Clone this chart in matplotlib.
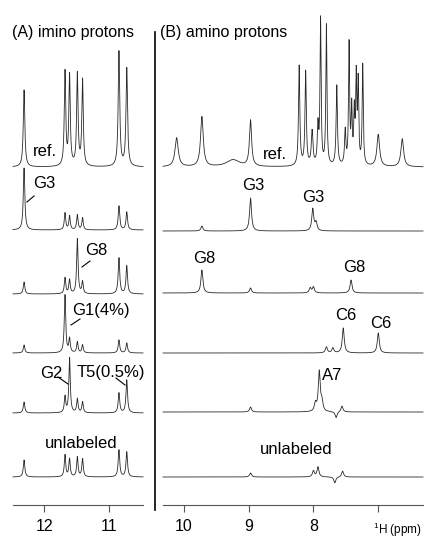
import numpy as np
import matplotlib
matplotlib.use("Agg")
import matplotlib.pyplot as plt
from matplotlib.lines import Line2D

plt.rcParams['font.family'] = ['Liberation Sans', 'DejaVu Sans']
plt.rcParams['mathtext.fontset'] = 'custom'
plt.rcParams['mathtext.rm'] = 'Liberation Sans'

# ---------------- data ----------------
# (A) imino protons: shared chemical shifts (ppm) and peak heights per trace
imino_shifts = [12.31, 11.68, 11.61, 11.49, 11.41, 10.85, 10.73]
imino_widths = [0.014, 0.013, 0.013, 0.013, 0.013, 0.014, 0.014]
imino_ref = [77, 94, 90, 92, 86, 115, 98]
imino_G3 = [62, 17, 14, 15, 12, 24, 18]
imino_G8 = [12, 16, 14, 55, 12, 36, 28]
imino_G1 = [8, 58, 14, 11, 8, 13, 10]
imino_G2T5 = [11, 16, 55, 14, 11, 20, 33]
imino_unlabeled = [17, 22, 18, 20, 18, 27, 25]

# (B) amino protons reference
amino_ref_shifts = [10.11, 9.72, 9.24, 8.97, 8.22, 8.12, 8.02, 7.93, 7.89, 7.80,
                    7.64, 7.51, 7.45, 7.41, 7.37, 7.34, 7.31, 7.24, 7.00, 6.63]
amino_ref_heights = [29, 50, 7, 46, 100, 94, 34, 38, 145, 140,
                     80, 34, 120, 55, 50, 85, 80, 100, 32, 28]
amino_ref_widths = [0.03, 0.025, 0.12, 0.02, 0.012, 0.012, 0.015, 0.012, 0.01, 0.01,
                    0.012, 0.012, 0.01, 0.01, 0.01, 0.01, 0.01, 0.01, 0.025, 0.025]

# (B) selectively labeled traces: shifts and heights
amino_G3_shifts = [9.72, 8.97, 8.01, 7.96]
amino_G3_heights = [5, 33, 22, 8]
amino_G8_shifts = [9.72, 8.97, 8.05, 8.00, 7.42]
amino_G8_heights = [23, 5, 5, 6, 13]
amino_C6_shifts = [7.80, 7.70, 7.54, 7.00]
amino_C6_heights = [6, 5, 25, 20]
amino_A7_shifts = [8.97, 7.97, 7.91, 7.87, 7.65, 7.56]
amino_A7_heights = [5, 8, 40, 9, -6, 6]
amino_unl_shifts = [8.97, 8.00, 7.93, 7.67, 7.55]
amino_unl_heights = [4, 6, 10, -6, 6]

imino_ticks = [12, 11]
amino_ticks = [10, 9, 8, 7]
amino_ticklabels = ['10', '9', '8', '']

# ---------------- figure ----------------
W, H = 426, 540
fig = plt.figure(figsize=(W / 100, H / 100), dpi=100)


def fx(px):
    return px / W


def fy(py):
    return 1 - py / H


AXIS_Y = 505
LINE_COLOR = '#2a2a2a'


def lorentz_sum(x, shifts, heights, widths):
    y = np.zeros_like(x)
    for s, h, w in zip(shifts, heights, widths):
        y += h / (1 + ((x - s) / w) ** 2)
    return y


def make_axes(left_px, right_px, xlim, ticks, labels):
    ax = fig.add_axes([fx(left_px), fy(AXIS_Y), fx(right_px - left_px), AXIS_Y / H])
    ax.set_xlim(*xlim)
    ax.set_ylim(0, AXIS_Y)
    for s in ['top', 'left', 'right']:
        ax.spines[s].set_visible(False)
    ax.spines['bottom'].set_color('#555555')
    ax.spines['bottom'].set_linewidth(0.8)
    ax.set_yticks([])
    ax.set_xticks(ticks)
    ax.set_xticklabels(labels)
    ax.tick_params(axis='x', direction='out', length=5, width=0.8, color='#555555',
                   labelsize=11.5, pad=5)
    ax.patch.set_visible(False)
    return ax


axA = make_axes(13, 143, (12.48, 10.48), imino_ticks, [str(t) for t in imino_ticks])
axB = make_axes(163, 423, (10.32, 6.31), amino_ticks, amino_ticklabels)

xa = np.linspace(12.48, 10.48, 6000)
xb = np.linspace(10.32, 6.31, 8000)

# imino traces
imino_traces = [(imino_ref, 167), (imino_G3, 230), (imino_G8, 294),
                (imino_G1, 353), (imino_G2T5, 413), (imino_unlabeled, 477)]
for heights, base in imino_traces:
    y = (AXIS_Y - base) + lorentz_sum(xa, imino_shifts, heights, imino_widths)
    axA.plot(xa, y, color=LINE_COLOR, lw=0.6, clip_on=False)

# amino traces
yb = (AXIS_Y - 167) + lorentz_sum(xb, amino_ref_shifts, amino_ref_heights, amino_ref_widths)
axB.plot(xb, yb, color=LINE_COLOR, lw=0.6, clip_on=False)
amino_traces = [(amino_G3_shifts, amino_G3_heights, 231),
                (amino_G8_shifts, amino_G8_heights, 293),
                (amino_C6_shifts, amino_C6_heights, 353),
                (amino_A7_shifts, amino_A7_heights, 412),
                (amino_unl_shifts, amino_unl_heights, 477)]
for shifts, heights, base in amino_traces:
    y = (AXIS_Y - base) + lorentz_sum(xb, shifts, heights, [0.018] * len(shifts))
    axB.plot(xb, y, color=LINE_COLOR, lw=0.6, clip_on=False)

# divider
fig.add_artist(Line2D([fx(155), fx(155)], [fy(32), fy(510)], transform=fig.transFigure,
                      color='black', lw=1.2))

# titles
fig.text(fx(12), fy(33), '(A) imino protons', fontsize=11.5, ha='left', va='center')
fig.text(fx(160), fy(33), '(B) amino protons', fontsize=11.5, ha='left', va='center')

# labels
LS = 12
labels = [
    ('ref.', 33, 152), ('ref.', 263, 155),
    ('G3', 33, 184), ('G8', 85, 250), ('G1(4%)', 72, 310),
    ('G2', 40, 373), ('T5(0.5%)', 77, 373), ('unlabeled', 45, 443),
    ('G3', 242, 185), ('G3', 302, 197), ('G8', 193, 258), ('G8', 343, 268),
    ('C6', 335, 315), ('C6', 370, 323), ('A7', 322, 375), ('unlabeled', 260, 450),
]
for txt, x, y in labels:
    fig.text(fx(x), fy(y), txt, fontsize=LS, ha='left', va='center')

leaders = [((27, 202), (34, 196)), ((82, 267), (90, 261)), ((71, 325), (80, 319)),
           ((58, 377), (68, 384)), ((116, 378), (125, 385))]
for (x1, y1), (x2, y2) in leaders:
    fig.add_artist(Line2D([fx(x1), fx(x2)], [fy(y1), fy(y2)], transform=fig.transFigure,
                          color='black', lw=0.8))

fig.text(fx(373), fy(530), r'$^{1}$H (ppm)', fontsize=8.5, ha='left', va='center')

fig.savefig('out.png', dpi=100)
